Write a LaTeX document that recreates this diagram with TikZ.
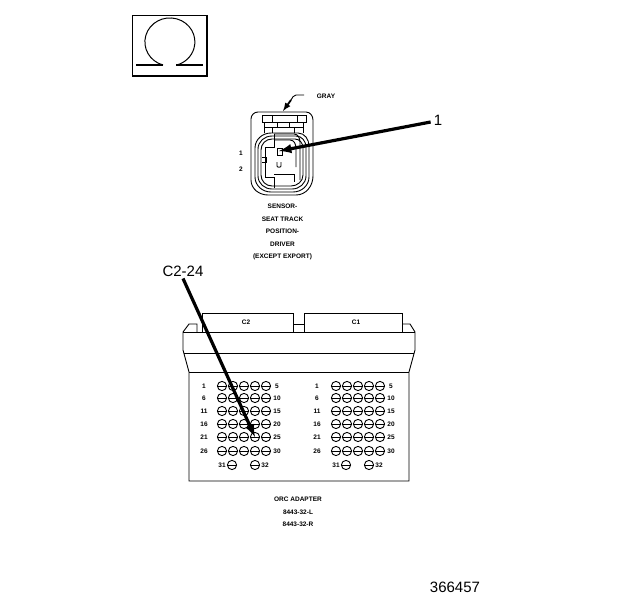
\documentclass[tikz,border=0pt]{standalone}
\usepackage{fontspec}
\setmainfont{Liberation Sans}
\usetikzlibrary{arrows}
\tikzset{
	part/.style={line width=0.9pt},
	leader/.style={line width=3.2pt, -latex},
	tiny/.style={inner sep=0pt, font=\fontsize{6.5}{7}\selectfont\bfseries},
	callout/.style={inner sep=0pt, font=\fontsize{15}{17}\selectfont},
	pics/hole/.style n args={2}{
		code = {
			\draw[part] (#1, #2) circle (4.6);
			\draw[part] (#1-4.6, #2) -- (#1+4.6, #2);
		}
	},
	pics/holerow/.style n args={6}{
		code = {
			\node[tiny] (-lo) at (#1, #2) {#3};
			\node[tiny] (-hi) at (#4, #2) {#5};
			\pic{hole={#6}{#2}};
			\pic{hole={#6+11}{#2}};
			\pic{hole={#6+22}{#2}};
			\pic{hole={#6+33}{#2}};
			\pic{hole={#6+44}{#2}};
		}
	},
	pics/holepair/.style n args={3}{
		code = {
			\node[tiny] (-lo) at (#1-10, #2) {31};
			\node[tiny] (-hi) at (#3+10, #2) {32};
			\pic{hole={#1}{#2}};
			\pic{hole={#3}{#2}};
		}
	}
}

\begin{document}
\begin{tikzpicture}[x=1pt, y=-1pt]

	\useasboundingbox (0, 0) rectangle (624, 600);

	% continuity symbol
	\draw[line width=1.6pt] (132.5, 15.5) rectangle (207, 76);
	\draw[line width=1pt] (163, 65) arc (106:434:25 and 24);
	\draw[line width=2pt] (136, 65) -- (163, 65);
	\draw[line width=2pt] (176, 65) -- (203, 65);

	% sensor
	\draw[part] (258, 112) -- (306, 112) to[out=0, in=90] (313, 120) -- (313, 176)
		to[out=-90, in=0] (296, 195) -- (268, 195) to[out=180, in=-90] (251, 180) -- (251, 119) to[out=90, in=180] (258, 112);
	\draw[part] (271, 133) -- (298, 133) to[out=0, in=90] (309, 146) -- (309, 177)
		to[out=-90, in=0] (293, 192) -- (271, 192) to[out=180, in=-90] (255, 177) -- (255, 148) to[out=90, in=180] (271, 133);
	\draw[part] (272, 136) -- (296, 136) to[out=0, in=90] (306, 147) -- (306, 176)
		to[out=-90, in=0] (292, 189) -- (272, 189) to[out=180, in=-90] (258, 176) -- (258, 149) to[out=90, in=180] (272, 136);
	\draw[part] (272, 139) -- (295, 139) to[out=0, in=90] (303, 148) -- (303, 175)
		to[out=-90, in=0] (291, 186) -- (272, 186) to[out=180, in=-90] (261, 175) -- (261, 150) to[out=90, in=180] (272, 139);
	\draw[part] (274, 134) -- (274, 147) -- (265, 147) -- (265, 177) -- (274, 177) -- (274, 188);
	\draw[part] (274, 134) -- (294, 134) to[out=0, in=90] (300, 142) -- (300, 180);
	\draw[part] (274, 174) -- (294, 174) -- (294, 182);
	\draw[part] (274, 140) -- (290, 140) to[out=0, in=90] (296, 148) -- (296, 167);
	\draw[part] (262, 157) -- (266, 157) -- (266, 162) -- (262, 162);
	\draw[part] (277, 148) rectangle (282, 155);
	\draw[part] (277, 162) -- (277, 166) to[out=-90, in=-90] (281, 166) -- (281, 162);
	\draw[part] (262, 115) rectangle (306, 122);
	\draw[part] (264, 122) -- (264, 127) -- (303, 127) -- (303, 122);
	\draw[part] (264, 127) -- (264, 133);
	\draw[part] (303, 127) -- (303, 133);
	\draw[part] (272, 115) -- (272, 122);
	\draw[part] (297, 115) -- (297, 122);
	\draw[part] (277, 127) -- (277, 122) -- (289, 122) -- (289, 127);
	\draw[part] (272, 127) -- (272, 133);
	\draw[part] (294, 127) -- (294, 133);

	\node[tiny] (grayname) at (326, 96) {GRAY};
	\node[tiny] (pinone) at (241, 153) {1};
	\node[tiny] (pintwo) at (241, 169) {2};
	\coordinate (grayturn) at (304, 95);
	\coordinate (grayend) at (283, 111);
	\draw[part] (grayturn) -- (296, 95) to[out=180, in=55] (291, 100);
	\draw[line width=1.8pt, -latex] (291, 100) -- (grayend);

	\node[tiny, align=center] (sensorname) at (282.5, 232) {SENSOR-\\[5.5pt]SEAT TRACK\\[5.5pt]POSITION-\\[5.5pt]DRIVER\\[5.5pt](EXCEPT EXPORT)};

	% adapter
	\draw[part] (202, 332) -- (202, 313) -- (293, 313) -- (293, 332);
	\draw[part] (304, 332) -- (304, 313) -- (402, 313) -- (402, 332);
	\draw[part] (293, 324) -- (304, 324);
	\draw[part] (197, 332) -- (197, 324) -- (189, 324) -- (183, 332) -- (183, 350) -- (189, 372) -- (189, 481) -- (409, 481) -- (409, 372) -- (415, 350) -- (415, 332) -- (410, 324) -- (402, 324);
	\draw[part] (183, 332) -- (415, 332);
	\draw[part] (184, 353) -- (414, 353);
	\draw[part] (189, 372) -- (409, 372);
	\node[tiny] (ctwo) at (246, 322) {C2};
	\node[tiny] (cone) at (356, 322) {C1};

	\pic (la) {holerow={204}{386}{1}{277}{5}{222}};
	\pic (lb) {holerow={204}{398}{6}{277}{10}{222}};
	\pic (lc) {holerow={204}{411}{11}{277}{15}{222}};
	\pic (ld) {holerow={204}{424}{16}{277}{20}{222}};
	\pic (le) {holerow={204}{437}{21}{277}{25}{222}};
	\pic (lf) {holerow={204}{451}{26}{277}{30}{222}};
	\pic (lg) {holepair={232}{465}{255}};

	\pic (ra) {holerow={317}{386}{1}{391}{5}{336}};
	\pic (rb) {holerow={317}{398}{6}{391}{10}{336}};
	\pic (rc) {holerow={317}{411}{11}{391}{15}{336}};
	\pic (rd) {holerow={317}{424}{16}{391}{20}{336}};
	\pic (re) {holerow={317}{437}{21}{391}{25}{336}};
	\pic (rf) {holerow={317}{451}{26}{391}{30}{336}};
	\pic (rg) {holepair={346}{465}{369}};

	\node[tiny, align=center] (adaptername) at (298, 512) {ORC ADAPTER\\[5.5pt]8443-32-L\\[5.5pt]8443-32-R};

	% callouts
	\node[callout] (labelone) at (438, 120) {1};
	\node[callout] (labelpin) at (183, 271) {C2-24};
	\node[callout] (figno) at (455, 587.5) {366457};
	\coordinate (oneend) at (279, 151);
	\coordinate (pinend) at (255, 437);
	\draw[leader] (labelone.west) ++ (-3, 2) -- (oneend);
	\draw[leader] (labelpin.south) ++ (0, 2) -- (pinend);

\end{tikzpicture}
\end{document}
